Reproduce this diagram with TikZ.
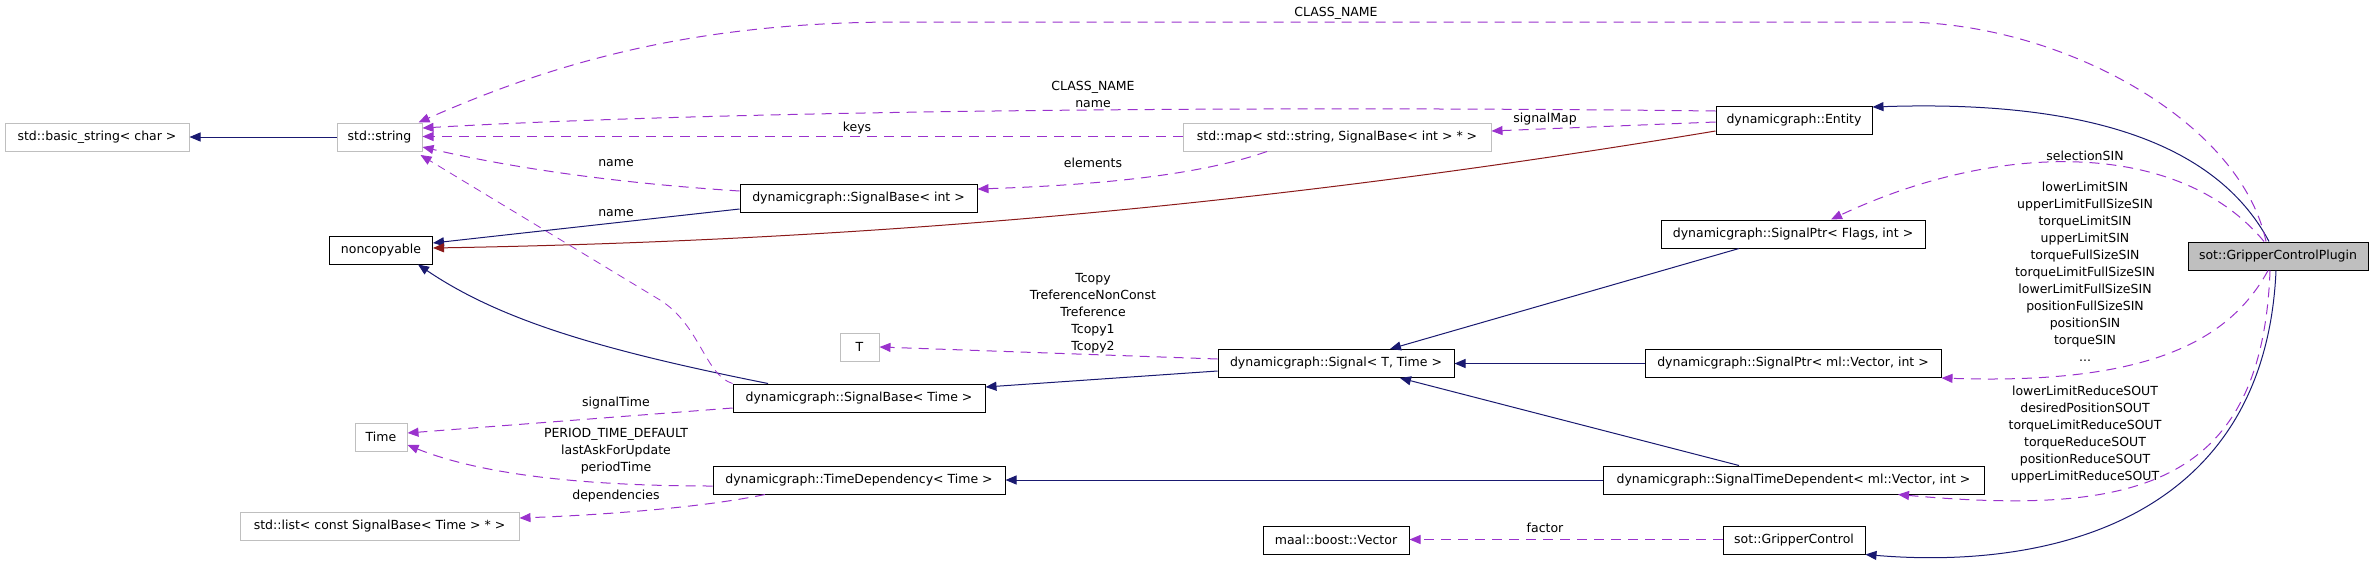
\documentclass[tikz,border=0pt]{standalone}
\usepackage{fontspec}
\setmainfont{DejaVu Sans}
\usetikzlibrary{arrows.meta}
\definecolor{navy}{HTML}{191970}
\definecolor{orchid}{HTML}{9A32CD}
\definecolor{fire}{HTML}{8B1A1A}
\definecolor{greyb}{HTML}{BFBFBF}
\tikzset{
  box/.style={draw=black, line width=1pt, minimum height=28pt, inner sep=0pt, fill=white},
  gbox/.style={box, draw=greyb},
  lbl/.style={inner sep=0pt, align=center},
  tip/.style={-{Triangle[length=11pt,width=9pt]}},
  inh/.style={tip, draw=navy, line width=1pt},
  inhred/.style={tip, draw=fire, line width=1pt},
  use/.style={tip, draw=orchid, line width=1pt, dash pattern=on 10pt off 7pt},
  usethin/.style={tip, draw=orchid, line width=0.8pt, dash pattern=on 8pt off 6pt},
}
\begin{document}
\begin{tikzpicture}[x=1pt,y=-1pt,font=\fontsize{12.5}{17}\selectfont]
\path[use as bounding box] (0,0) rectangle (2373,571);
% nodes
\node[gbox, minimum width=184pt] (bstring) at (97,137) {std::basic\_string< char >};
\node[gbox, minimum width=85pt] (string) at (379.5,137) {std::string};
\node[box, minimum width=103pt] (nonc) at (381,250) {noncopyable};
\node[gbox, minimum width=52pt] (time) at (381,437) {Time};
\node[gbox, minimum width=279pt] (list) at (379.5,526) {std::list< const SignalBase< Time > * >};
\node[box, minimum width=237pt] (sbint) at (858.5,198) {dynamicgraph::SignalBase< int >};
\node[box, minimum width=252pt] (sbtime) at (859,398) {dynamicgraph::SignalBase< Time >};
\node[gbox, minimum width=39pt] (T) at (859.5,347) {T};
\node[box, minimum width=292pt] (td) at (859,480) {dynamicgraph::TimeDependency< Time >};
\node[gbox, minimum width=308pt] (map) at (1337,137) {std::map< std::string, SignalBase< int > * >};
\node[box, minimum width=236pt] (signal) at (1336,363.5) {dynamicgraph::Signal< T, Time >};
\node[box, minimum width=146pt] (vec) at (1336,540) {maal::boost::Vector};
\node[box, minimum width=156pt] (entity) at (1794,120) {dynamicgraph::Entity};
\node[box, minimum width=264pt] (spf) at (1793,234) {dynamicgraph::SignalPtr< Flags, int >};
\node[box, minimum width=296pt] (spv) at (1793,363.5) {dynamicgraph::SignalPtr< ml::Vector, int >};
\node[box, minimum width=381pt] (std) at (1793.5,480) {dynamicgraph::SignalTimeDependent< ml::Vector, int >};
\node[box, minimum width=142pt] (gc) at (1794,540) {sot::GripperControl};
\node[box, minimum width=180pt, fill=greyb] (plugin) at (2278,256) {sot::GripperControlPlugin};

% inheritance (solid)
\draw[inh] (string.west) -- (bstring.east);
\draw[inh] ([yshift=-11pt]sbint.west) -- ([yshift=7pt]nonc.east);
\draw[inhred] ([yshift=-11pt]entity.west) .. controls (1300,200) and (900,240) .. ([yshift=2pt]nonc.east);
\draw[inh] ([xshift=-91pt]sbtime.north) .. controls (600,350) and (500,320) .. ([xshift=37pt]nonc.south);
\draw[inh] ([yshift=-7.5pt]signal.west) -- ([yshift=11pt]sbtime.east);
\draw[inh] (std.west) -- (td.east);
\draw[inh] ([xshift=-54.5pt]std.north) -- ([xshift=64pt]signal.south);
\draw[inh] (spv.west) -- (signal.east);
\draw[inh] ([xshift=-54pt]spf.south) -- ([xshift=54pt]signal.north);
\draw[inh] ([xshift=-9pt]plugin.north) .. controls (2215,140) and (2080,100) .. ([yshift=13pt]entity.east);
\draw[inh] ([xshift=-2pt]plugin.south) .. controls (2265,520) and (2050,570) .. (gc.south east);

% usage (dashed)
\draw[use] ([xshift=-12pt]plugin.north) .. controls (2240,120) and (2060,22) .. (1900,22) -- (900,22) .. controls (700,22) and (560,60) .. ([xshift=-4pt]string.north east);
\draw[use] ([yshift=9pt]entity.west) .. controls (1200,105) and (700,112) .. ([yshift=9pt]string.east);
\draw[use] ([yshift=-2pt]entity.west) -- ([yshift=6pt]map.east);
\draw[use] ([yshift=0.5pt]map.west) -- ([yshift=0.5pt]string.east);
\draw[use] ([yshift=7pt]sbint.west) .. controls (600,182) and (500,165) .. ([yshift=-10pt]string.east);
\draw[usethin] (sbtime.north west) .. controls (705,375) and (700,325) .. (660,300) -- ([xshift=-2pt,yshift=-18pt]string.east);
\draw[use] ([xshift=-70pt]map.south) .. controls (1200,175) and (1100,185) .. ([yshift=9pt]sbint.east);
\draw[use] ([yshift=4.5pt]signal.west) -- (T.east);
\draw[use] ([yshift=-10pt]sbtime.west) -- ([yshift=4pt]time.east);
\draw[use] ([yshift=-6pt]td.west) .. controls (560,486) and (470,470) .. ([yshift=-8pt]time.east);
\draw[use] ([xshift=-94pt]td.south) .. controls (700,508) and (600,515) .. ([yshift=8pt]list.east);
\draw[use] ([yshift=0.5pt]gc.west) -- ([yshift=0.5pt]vec.east);
\draw[use] ([xshift=-14pt]plugin.north) .. controls (2180,140) and (2000,140) .. ([xshift=38pt]spf.north);
\draw[use] ([xshift=-10pt]plugin.south) .. controls (2230,340) and (2150,385) .. (spv.south east);
\draw[use] ([xshift=-8pt]plugin.south) .. controls (2262,490) and (2130,515) .. ([xshift=104.5pt]std.south);

% labels
\node[lbl] (l1) at (1336,13) {CLASS\_NAME};
\node[lbl] (l2) at (1093,94.5) {CLASS\_NAME\\name};
\node[lbl] (l3) at (857,128) {keys};
\node[lbl] (l4) at (1545,119) {signalMap};
\node[lbl] (l5) at (616,163) {name};
\node[lbl] (l6) at (1093,163) {elements};
\node[lbl] (l7) at (616,213) {name};
\node[lbl] (l8) at (1093,313) {Tcopy\\TreferenceNonConst\\Treference\\Tcopy1\\Tcopy2};
\node[lbl] (l9) at (616,403) {signalTime};
\node[lbl] (l10) at (616,451) {PERIOD\_TIME\_DEFAULT\\lastAskForUpdate\\periodTime};
\node[lbl] (l11) at (616,496) {dependencies};
\node[lbl] (l12) at (1545,528) {factor};
\node[lbl] (l13) at (2085,156) {selectionSIN};
\node[lbl] (l14) at (2085,272) {lowerLimitSIN\\upperLimitFullSizeSIN\\torqueLimitSIN\\upperLimitSIN\\torqueFullSizeSIN\\torqueLimitFullSizeSIN\\lowerLimitFullSizeSIN\\positionFullSizeSIN\\positionSIN\\torqueSIN\\...};
\node[lbl] (l15) at (2085,434.5) {lowerLimitReduceSOUT\\desiredPositionSOUT\\torqueLimitReduceSOUT\\torqueReduceSOUT\\positionReduceSOUT\\upperLimitReduceSOUT};
\end{tikzpicture}
\end{document}
